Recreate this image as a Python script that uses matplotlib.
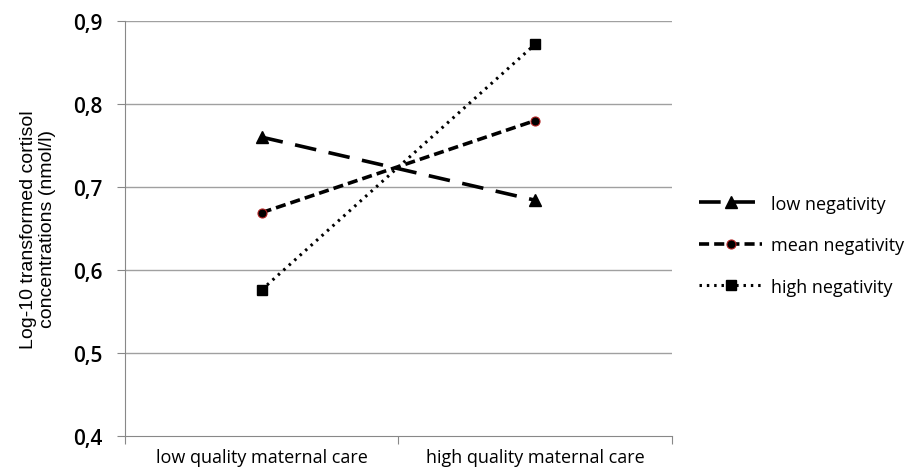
import matplotlib.pyplot as plt
from matplotlib.ticker import FuncFormatter

categories = ['low quality maternal care', 'high quality maternal care']
low_neg = [0.760, 0.684]
mean_neg = [0.669, 0.780]
high_neg = [0.576, 0.872]
yticks = [0.4, 0.5, 0.6, 0.7, 0.8, 0.9]

fig = plt.figure(figsize=(9.18, 4.77), dpi=100)
ax = fig.add_axes([0.136, 0.084, 0.596, 0.87])

x = [0.5, 1.5]
ax.plot(x, low_neg, color='black', lw=2.6, dashes=(6, 3.5), marker='^', ms=8,
        label='low negativity')
ax.plot(x, mean_neg, color='black', lw=2.6, dashes=(2.8, 1.4), marker='o', ms=6.5,
        mec='#b02020', mew=0.8, label='mean negativity')
ax.plot(x, high_neg, color='black', lw=2.2, dashes=(0.8, 1.6), marker='s', ms=7,
        label='high negativity')

ax.set_xlim(0, 2)
ax.set_ylim(0.4, 0.9)
ax.set_yticks(yticks)
ax.yaxis.set_major_formatter(FuncFormatter(lambda v, p: f'{v:.1f}'.replace('.', ',')))
ax.set_xticks([0, 1, 2])
ax.set_xticklabels([])
ax.set_xticks(x, minor=True)
ax.set_xticklabels(categories, minor=True, fontsize=13, family='Open Sans')
ax.tick_params(axis='x', which='minor', length=0, pad=9)
ax.tick_params(axis='x', which='major', length=6, color='#888888', direction='out')
ax.tick_params(axis='y', length=6, color='#888888', labelsize=15, pad=10)
for lab in ax.get_yticklabels():
    lab.set_family('Open Sans')
    lab.set_fontweight('semibold')

for v in yticks[1:]:
    ax.axhline(v, color='#a0a0a0', lw=1, zorder=0)
for s in ['top', 'right']:
    ax.spines[s].set_visible(False)
for s in ['left', 'bottom']:
    ax.spines[s].set_color('#888888')

ax.set_ylabel('Log-10 transformed cortisol\nconcentrations (nmol/l)', fontsize=14,
              family='Liberation Sans', labelpad=12)

leg = ax.legend(loc='center left', bbox_to_anchor=(1.02, 0.46), frameon=False,
                prop={'family': 'Open Sans', 'size': 13},
                handlelength=3.5, labelspacing=1.3, handletextpad=0.5)

fig.savefig('out.png', dpi=100)
